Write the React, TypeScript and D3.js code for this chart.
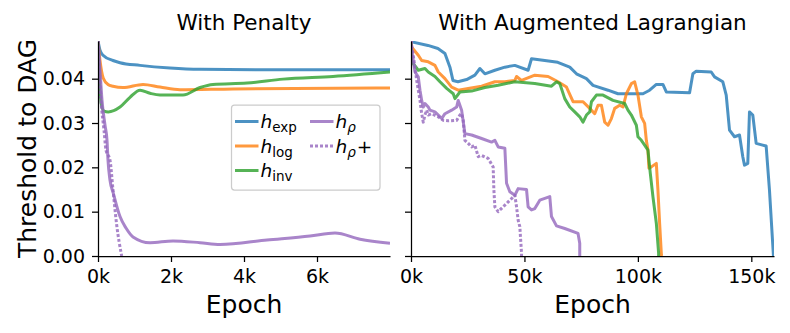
import React, { useEffect, useRef } from 'react';
import * as d3 from 'd3';

// matplotlib tab colours, drawn with alpha 0.8
const COLORS = {
    exp: '#1f77b4',
    log: '#ff7f0e',
    inv: '#2ca02c',
    rho: '#9467bd',
};

type Pt = [number, number];

// ---- With Penalty (epoch, threshold)
const penaltyExp: Pt[] = [
    [0, 0.0486], [55, 0.0464], [137, 0.0453], [411, 0.0441], [603, 0.0436], [1150, 0.0430],
    [1973, 0.0424], [2795, 0.0421], [4630, 0.0420], [8000, 0.0420],
];
const penaltyLog: Pt[] = [
    [0, 0.0486], [55, 0.0441], [145, 0.0401], [274, 0.0387], [411, 0.0383], [685, 0.0380],
    [1233, 0.0387], [1699, 0.0381], [2247, 0.0375], [3699, 0.0377], [8000, 0.0379],
];
const penaltyInv: Pt[] = [
    [0, 0.0486], [55, 0.0374], [96, 0.0340], [164, 0.0327], [282, 0.0325], [603, 0.0336],
    [877, 0.0358], [1151, 0.0374], [1425, 0.0367], [1699, 0.0363], [2329, 0.0363],
    [2795, 0.0380], [3151, 0.0387], [4082, 0.0390], [5068, 0.0399], [6438, 0.0405], [8000, 0.0415],
];
const penaltyRho: Pt[] = [
    [0, 0.0486], [55, 0.0419], [110, 0.0351], [192, 0.0295], [247, 0.0261], [274, 0.0216],
    [329, 0.0171], [419, 0.0142], [603, 0.0089], [767, 0.0063], [959, 0.0043], [1425, 0.0030],
    [2055, 0.0034], [2795, 0.0030], [3342, 0.0026], [4630, 0.0036], [5808, 0.0045],
    [6493, 0.0052], [7178, 0.0038], [8000, 0.0029],
];
const penaltyRhoPlus: Pt[] = [
    [0, 0.0486], [82, 0.0351], [164, 0.0284], [219, 0.0239], [329, 0.0216], [411, 0.0149],
    [512, 0.0070], [649, 0.0],
];

// ---- With Augmented Lagrangian (epoch, threshold)
const alExp: Pt[] = [
    [0, 0.0486], [308, 0.0483], [7482, 0.0475], [11883, 0.0468], [14963, 0.0457], [17164, 0.0426],
    [18484, 0.0396], [20685, 0.0393], [24514, 0.0398], [28168, 0.0408], [30367, 0.0423],
    [32567, 0.0411], [36968, 0.0419], [41369, 0.0426], [45770, 0.0430], [51624, 0.0419],
    [53120, 0.0445], [58973, 0.0441], [64695, 0.0437], [69976, 0.0426], [72925, 0.0411],
    [77326, 0.0400], [80231, 0.0385], [86833, 0.0374], [91234, 0.0366], [102236, 0.0366],
    [105184, 0.0374], [108133, 0.0387], [111038, 0.0387], [112534, 0.0370], [122788, 0.0368],
    [124240, 0.0411], [125736, 0.0417], [132338, 0.0415], [133790, 0.0404], [137443, 0.0393],
    [138939, 0.0363], [140392, 0.0284], [142592, 0.0269], [144793, 0.0273], [146245, 0.0224],
    [146993, 0.0205], [148446, 0.0209], [149194, 0.0325], [150646, 0.0318], [152142, 0.0254],
    [156544, 0.0248], [157996, 0.0149], [159756, 0.0],
];
const alLog: Pt[] = [
    [0, 0.0486], [308, 0.0471], [3213, 0.0453], [4709, 0.0441], [7614, 0.0438], [10562, 0.0430],
    [12015, 0.0415], [14963, 0.0400], [17912, 0.0381], [20817, 0.0374], [25218, 0.0378],
    [31115, 0.0383], [36968, 0.0393], [41369, 0.0393], [45770, 0.0396], [46519, 0.0405],
    [48719, 0.0396], [54572, 0.0408], [60426, 0.0405], [64827, 0.0393], [68524, 0.0381],
    [71429, 0.0348], [75830, 0.0348], [78778, 0.0333], [80978, 0.0321], [82431, 0.0340],
    [83927, 0.0340], [85379, 0.0302], [86833, 0.0295], [88329, 0.0310], [89780, 0.0333],
    [91981, 0.0340], [93433, 0.0336], [94929, 0.0366], [97130, 0.0389], [98582, 0.0393],
    [100035, 0.0363], [101531, 0.0314], [102983, 0.0299], [103731, 0.0261], [104435, 0.0239],
    [104875, 0.0198], [105932, 0.0201], [108132, 0.0209], [108836, 0.0149], [109584, 0.0074],
    [110332, 0.0006], [110464, 0.0],
];
const alInv: Pt[] = [
    [0, 0.0480], [220, 0.0441], [1012, 0.0434], [3213, 0.0419], [6161, 0.0423], [7614, 0.0415],
    [10562, 0.0405], [12763, 0.0393], [15711, 0.0378], [18616, 0.0366], [19364, 0.0355],
    [21565, 0.0370], [26714, 0.0372], [32567, 0.0380], [38421, 0.0385], [45770, 0.0393],
    [54572, 0.0389], [61922, 0.0383], [64123, 0.0393], [65575, 0.0389], [67776, 0.0355],
    [69976, 0.0336], [72176, 0.0325], [74377, 0.0314], [75830, 0.0302], [77326, 0.0318],
    [78778, 0.0325], [79526, 0.0348], [81727, 0.0363], [84631, 0.0363], [89032, 0.0351],
    [94181, 0.0344], [95633, 0.0329], [97130, 0.0318], [99330, 0.0295], [100035, 0.0269],
    [101531, 0.0261], [102983, 0.0250], [104435, 0.0239], [105492, 0.0186], [106636, 0.0134],
    [108133, 0.0074], [109145, 0.0006], [109145, 0.0],
];
const alRho: Pt[] = [
    [0, 0.0486], [308, 0.0464], [1012, 0.0441], [1760, 0.0415], [3213, 0.0404], [3961, 0.0374],
    [4709, 0.0351], [5413, 0.0336], [6161, 0.0344], [7614, 0.0336], [8362, 0.0329],
    [10562, 0.0325], [12015, 0.0318], [13511, 0.0310], [14963, 0.0321], [17912, 0.0329],
    [20113, 0.0336], [20817, 0.0351], [22313, 0.0329], [23765, 0.0276], [26714, 0.0273],
    [31115, 0.0265], [35516, 0.0257], [36968, 0.0261], [38421, 0.0246], [41369, 0.0243],
    [42117, 0.0164], [43570, 0.0145], [45770, 0.0137], [47223, 0.0152], [50920, 0.0150],
    [51624, 0.0111], [53120, 0.0104], [54572, 0.0107], [56773, 0.0126], [61174, 0.0134],
    [61922, 0.0089], [64123, 0.0068], [67775, 0.0062], [73628, 0.0051], [74377, 0.0029],
    [74377, 0.0],
];
const alRhoPlus: Pt[] = [
    [0, 0.0486], [1320, 0.0441], [2508, 0.0396], [3961, 0.0351], [4709, 0.0321], [5413, 0.0302],
    [6161, 0.0318], [6910, 0.0329], [7614, 0.0318], [9110, 0.0321], [12015, 0.0314],
    [14215, 0.0306], [16416, 0.0305], [20113, 0.0306], [21565, 0.0318], [22313, 0.0321],
    [23017, 0.0306], [23765, 0.0261], [25218, 0.0254], [26714, 0.0246], [28166, 0.0250],
    [29619, 0.0224], [31115, 0.0227], [34020, 0.0220], [36220, 0.0201], [36528, 0.0149],
    [36968, 0.0111], [38421, 0.0100], [42822, 0.0122], [45770, 0.0137], [46519, 0.0111],
    [47223, 0.0081], [47969, 0.0066], [48719, 0.0006], [48719, 0.0],
];

const yTicks = [0, 0.01, 0.02, 0.03, 0.04];
const penaltyXTicks = [0, 2000, 4000, 6000];
const alXTicks = [0, 50000, 100000, 150000];

const FONT = 'DejaVu Sans, sans-serif';
const W = 790;
const H = 333;

export default function App() {
    const svgRef = useRef<SVGSVGElement | null>(null);

    useEffect(() => {
        document.body.style.margin = '0';
        const svg = d3.select(svgRef.current);
        svg.selectAll('*').remove();

        const top = 41;
        const bottom = 256;
        const y = d3.scaleLinear().domain([0, 0.0485]).range([bottom, top]);

        const panels = [
            {
                key: 'pen',
                title: 'With Penalty',
                left: 98, right: 390,
                domain: [0, 8000],
                ticks: penaltyXTicks,
                showY: true,
                curve: d3.curveMonotoneX,
                series: [
                    { data: penaltyExp, color: COLORS.exp, dotted: false },
                    { data: penaltyLog, color: COLORS.log, dotted: false },
                    { data: penaltyInv, color: COLORS.inv, dotted: false },
                    { data: penaltyRho, color: COLORS.rho, dotted: false },
                    { data: penaltyRhoPlus, color: COLORS.rho, dotted: true },
                ],
            },
            {
                key: 'al',
                title: 'With Augmented Lagrangian',
                left: 411, right: 774,
                domain: [0, 160000],
                ticks: alXTicks,
                showY: false,
                curve: d3.curveLinear,
                series: [
                    { data: alExp, color: COLORS.exp, dotted: false },
                    { data: alLog, color: COLORS.log, dotted: false },
                    { data: alInv, color: COLORS.inv, dotted: false },
                    { data: alRho, color: COLORS.rho, dotted: false },
                    { data: alRhoPlus, color: COLORS.rho, dotted: true },
                ],
            },
        ];

        const defs = svg.append('defs');

        panels.forEach(p => {
            const x = d3.scaleLinear().domain(p.domain).range([p.left, p.right]);

            defs.append('clipPath')
                .attr('id', `clip-${p.key}`)
                .append('rect')
                .attr('x', p.left)
                .attr('y', top)
                .attr('width', p.right - p.left)
                .attr('height', bottom - top);

            const lines = svg.append('g').attr('clip-path', `url(#clip-${p.key})`);
            const line = d3.line<Pt>()
                .x(d => x(d[0]))
                .y(d => y(d[1]))
                .curve(p.curve);

            p.series.forEach(s => {
                lines.append('path')
                    .attr('d', line(s.data))
                    .attr('fill', 'none')
                    .attr('stroke', s.color)
                    .attr('stroke-opacity', 0.8)
                    .attr('stroke-width', 3)
                    .attr('stroke-linejoin', 'round')
                    .attr('stroke-dasharray', s.dotted ? '3,2' : null);
            });

            // x axis
            svg.append('g')
                .attr('transform', `translate(0,${bottom})`)
                .call(d3.axisBottom(x)
                    .tickValues(p.ticks)
                    .tickSize(6)
                    .tickPadding(8)
                    .tickSizeOuter(0)
                    .tickFormat(d => `${(+d) / 1000}k`))
                .call(g => {
                    g.selectAll('text').style('font-family', FONT).style('font-size', '19px').style('fill', '#000');
                    g.selectAll('line').style('stroke', '#000').style('stroke-width', 1.25);
                    g.select('.domain').style('stroke', '#000').style('stroke-width', 1.25);
                });

            // y axis
            svg.append('g')
                .attr('transform', `translate(${p.left},0)`)
                .call(d3.axisLeft(y)
                    .tickValues(yTicks)
                    .tickSize(6)
                    .tickPadding(7)
                    .tickSizeOuter(0)
                    .tickFormat(d => (p.showY ? d3.format('.2f')(+d) : '')))
                .call(g => {
                    g.selectAll('text').style('font-family', FONT).style('font-size', '19px').style('fill', '#000');
                    g.selectAll('line').style('stroke', '#000').style('stroke-width', 1.25);
                    g.select('.domain').style('stroke', '#000').style('stroke-width', 1.25);
                });

            svg.append('text')
                .attr('x', (p.left + p.right) / 2)
                .attr('y', 30)
                .attr('text-anchor', 'middle')
                .style('font-family', FONT)
                .style('font-size', '21.5px')
                .text(p.title);

            svg.append('text')
                .attr('x', (p.left + p.right) / 2)
                .attr('y', 313)
                .attr('text-anchor', 'middle')
                .style('font-family', FONT)
                .style('font-size', '25px')
                .text('Epoch');
        });

        svg.append('text')
            .attr('transform', `translate(36,${(top + bottom) / 2}) rotate(-90)`)
            .attr('text-anchor', 'middle')
            .style('font-family', FONT)
            .style('font-size', '25px')
            .text('Threshold to DAG');

        // legend
        const legend = svg.append('g');
        legend.append('rect')
            .attr('x', 231.5)
            .attr('y', 105)
            .attr('width', 148.5)
            .attr('height', 85)
            .attr('rx', 3)
            .attr('fill', '#fff')
            .attr('fill-opacity', 0.8)
            .attr('stroke', '#ccc')
            .attr('stroke-width', 1.25);

        const entries = [
            { sub: 'exp', plus: false, color: COLORS.exp, dotted: false, col: 0, row: 0 },
            { sub: 'log', plus: false, color: COLORS.log, dotted: false, col: 0, row: 1 },
            { sub: 'inv', plus: false, color: COLORS.inv, dotted: false, col: 0, row: 2 },
            { sub: 'ρ', plus: false, color: COLORS.rho, dotted: false, col: 1, row: 0 },
            { sub: 'ρ', plus: true, color: COLORS.rho, dotted: true, col: 1, row: 1 },
        ];
        entries.forEach(e => {
            const lx = e.col === 0 ? 235 : 310;
            const ly = 121.5 + e.row * 24.5;
            legend.append('line')
                .attr('x1', lx).attr('x2', lx + 23.5)
                .attr('y1', ly).attr('y2', ly)
                .attr('stroke', e.color)
                .attr('stroke-opacity', 0.8)
                .attr('stroke-width', 3)
                .attr('stroke-dasharray', e.dotted ? '3,2' : null);
            const t = legend.append('text')
                .attr('x', lx + 25.5)
                .attr('y', ly + 6.5)
                .style('font-family', FONT)
                .style('font-size', '18.5px');
            t.append('tspan').style('font-style', 'italic').text('h');
            t.append('tspan')
                .attr('dy', 4)
                .style('font-size', '13.5px')
                .style('font-style', e.sub === 'ρ' ? 'italic' : 'normal')
                .text(e.sub);
            if (e.plus) {
                t.append('tspan').attr('dy', -4).attr('dx', 1).text('+');
            }
        });
    }, []);

    return (
        <div style={{ width: W, height: H }}>
            <svg ref={svgRef} width={W} height={H} style={{ display: 'block', background: '#fff' }} />
        </div>
    );
}
